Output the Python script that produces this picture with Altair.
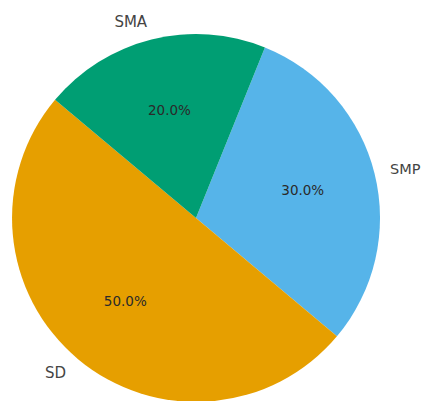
import altair as alt
import pandas as pd

categories = ["SMP", "SD", "SMA"]
shares = [30, 50, 20]
colors = ["#56B4E9", "#E69F00", "#009E73"]
pct_labels = ["30.0%", "50.0%", "20.0%"]
label_align = ["left", "right", "right"]

df = pd.DataFrame({
    "cat": categories,
    "share": shares,
    "pct": pct_labels,
    "order": list(range(len(categories))),
    "align": label_align,
})

start = 0.384
tscale = alt.Scale(domain=[0, 100], range=[start, start + 6.283185307])
cx = alt.value(188)
cy = alt.value(210)
color = alt.Color("cat:N", scale=alt.Scale(domain=categories, range=colors), legend=None)
order = alt.Order("order:Q")

base = alt.Chart(df)

pie = base.mark_arc(radius=184, stroke=None).encode(
    theta=alt.Theta("share:Q", stack=True, scale=tscale),
    color=color, order=order, x=cx, y=cy)

stacked = base.transform_stack(
    stack="share", groupby=[], as_=["s0", "s1"],
    sort=[alt.SortField("order", order="ascending")]
).transform_calculate(mid="(datum.s0 + datum.s1) / 2")

mid_theta = alt.Theta("mid:Q", stack=None, scale=tscale)

pct = stacked.mark_text(radius=110, font="DejaVu Sans", fontSize=13.5,
                        color="#2a2a2a", align="center", baseline="middle").encode(
    theta=mid_theta, text="pct:N", x=cx, y=cy)

lab_left = stacked.transform_filter(alt.datum.align == "left").mark_text(
    radius=200, font="DejaVu Sans", fontSize=14.5, color="#444444",
    align="left", baseline="middle").encode(
    theta=mid_theta, text="cat:N", x=cx, y=cy)

lab_right = stacked.transform_filter(alt.datum.align == "right").mark_text(
    radius=202, font="DejaVu Sans", fontSize=15, color="#444444",
    align="right", baseline="middle").encode(
    theta=mid_theta, text="cat:N", x=cx, y=cy)

chart = alt.layer(pie, pct, lab_left, lab_right).properties(
    width=413, height=393, padding=0, autosize="none"
).configure_view(stroke=None)

chart.save("out.html", embed_options={"renderer": "svg", "actions": False})
